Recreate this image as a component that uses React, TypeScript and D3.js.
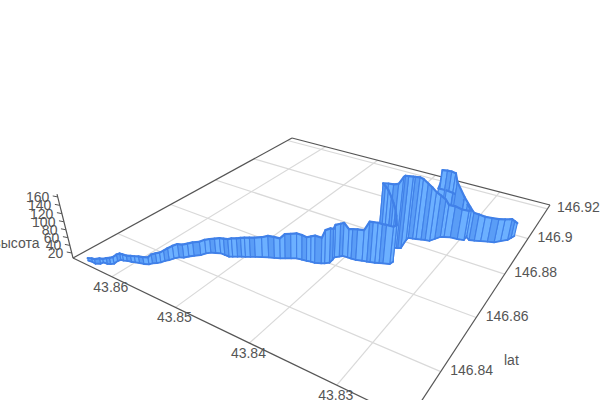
import React from "react";
import * as d3 from "d3";

const lonOff = [6494,6428,6368,6318,6312,6248,6215,6187,6196,6183,6146,6102,6043,5999,5948,5890,5837,5818,5780,5752,5732,5704,5681,5647,5597,5563,5523,5467,5439,5401,5346,5292,5227,5160,5123,5076,5034,4994,4945,4896,4822,4756,4691,4628,4579,4521,4464,4397,4338,4287,4234,4162,4131,4090,4091,4102,4062,4035,3970,3921,3860,3789,3733,3695,3642,3598,3556,3484,3474,3572,3606,3650,3684,3729,3771,3797,3744,3684,3618,3575,3558,3529,3557,3556,3503,3463,3405,3357,3304,3268,3228,3188,3119,3030,2952,2956,3029,3089,3168,3238,3326,3428,3417,3416,3355,3300,3248,3210,3078,2973,2898,2838,2767,2693,2618,2561,2495,2474,2452];
const latOff = [269,271,270,277,285,286,290,296,309,317,319,323,326,330,334,337,343,351,358,366,376,385,397,408,414,425,435,447,460,470,476,482,482,482,487,494,500,505,512,519,528,536,542,549,556,564,572,575,577,580,581,588,593,602,617,630,640,647,649,649,650,656,659,662,666,671,675,682,696,736,743,748,749,748,748,745,752,755,753,759,760,765,809,822,826,829,834,838,841,857,875,881,889,891,896,920,928,933,935,932,930,928,932,932,934,935,936,935,928,918,904,909,916,924,930,946,962,977,993];
const heights = [13,16,19,21,16,22,23,24,24,24,23,21,23,23,24,25,25,30,32,32,34,38,40,42,41,41,42,42,43,43,45,47,50,53,55,55,56,57,57,57,59,63,62,59,70,71,72,71,68,72,77,73,92,95,87,91,92,93,80,83,86,86,109,109,109,106,105,102,101,101,113,124,136,151,159,165,165,165,170,187,190,189,171,166,166,163,153,145,135,122,107,93,90,86,85,77,85,91,97,102,105,105,119,152,153,153,151,131,101,85,80,77,72,70,69,65,63,53,42];
const lonTicks = [43.83, 43.84, 43.85, 43.86];
const latTicks = [146.84, 146.86, 146.88, 146.9, 146.92];
const zTicks = [20, 40, 60, 80, 100, 120, 140, 160];

const lonDomain = [43.8669, 43.8229];
const latDomain = [146.8255, 146.9229];
const zDomain = [6.7, 166.8];

const L = [73, 258], F = [409, 420], R = [550, 205], B = [292, 138];
const vanish = [300, 1166];
const zLift = 0.0658;

const dx1 = F[0] - R[0], dx2 = B[0] - R[0], sx = L[0] - F[0] + R[0] - B[0];
const dy1 = F[1] - R[1], dy2 = B[1] - R[1], sy = L[1] - F[1] + R[1] - B[1];
const det = dx1 * dy2 - dx2 * dy1;
const g = (sx * dy2 - dx2 * sy) / det;
const h = (dx1 * sy - sx * dy1) / det;
const a = F[0] - L[0] + g * F[0], b = B[0] - L[0] + h * B[0];
const d = F[1] - L[1] + g * F[1], e = B[1] - L[1] + h * B[1];

const sScale = d3.scaleLinear().domain(lonDomain).range([0, 1]);
const tScale = d3.scaleLinear().domain(latDomain).range([0, 1]);
const zScale = d3.scaleLinear().domain(zDomain).range([0, zLift]);

function project(lon: number, lat: number, z: number): [number, number] {
  const s = sScale(lon), t = tScale(lat), q = zScale(z);
  const w = g * s + h * t + 1 - q;
  return [
    (a * s + b * t + L[0] - q * vanish[0]) / w,
    (d * s + e * t + L[1] - q * vanish[1]) / w,
  ];
}

const line = d3.line();
const zFloor = zDomain[0];
const lons = lonOff.map((v) => 43.8 + v / 1e5);
const lats = latOff.map((v) => 146.8 + v / 1e4);

const lightBlue = "#6cb0ff";
const midBlue = "#5a9df6";
const edgeBlue = "#4080e8";

const segments = d3.range(lons.length - 1).map((i) => {
  const p0 = project(lons[i], lats[i], zFloor), p1 = project(lons[i + 1], lats[i + 1], zFloor);
  const t0 = project(lons[i], lats[i], heights[i]), t1 = project(lons[i + 1], lats[i + 1], heights[i + 1]);
  return {
    i,
    depth: (p0[1] + p1[1]) / 2,
    fill: i % 3 === 2 ? midBlue : lightBlue,
    path: line([p0, p1, t1, t0])! + "Z",
    top: line([t0, t1])!,
    bottom: line([p0, p1])!,
  };
});
const ordered = d3.sort(segments, (s) => s.depth);

const textFont = "'Liberation Sans', Arial, sans-serif";
const textColor = "#555";
const gridColor = "#d9d9d9";
const axisColor = "#555";

export default function App() {
  const [lonA, lonB] = lonDomain, [latA, latB] = latDomain;
  const edges = [
    [project(lonA, latA, zFloor), project(lonA, latB, zFloor)],
    [project(lonA, latB, zFloor), project(lonB, latB, zFloor)],
    [project(lonA, latA, zFloor), project(lonB, latA, zFloor)],
    [project(lonB, latA, zFloor), project(lonB, latB, zFloor)],
    [project(lonA, latA, zFloor), project(lonA, latA, zDomain[1])],
  ];
  return (
    <svg width={600} height={400} style={{ position: "absolute", left: 0, top: 0, background: "#fff" }}>
      {lonTicks.map((v) => (
        <path key={v} d={line([project(v, latA, zFloor), project(v, latB, zFloor)])!} stroke={gridColor} strokeWidth={1.2} fill="none" />
      ))}
      {latTicks.map((v) => (
        <path key={v} d={line([project(lonA, v, zFloor), project(lonB, v, zFloor)])!} stroke={gridColor} strokeWidth={1.2} fill="none" />
      ))}
      {edges.map((ed, i) => (
        <path key={i} d={line(ed as [number, number][])!} stroke={axisColor} strokeWidth={1.2} fill="none" />
      ))}
      {zTicks.map((v) => {
        const p = project(lonA, latA, v);
        return (
          <g key={v}>
            <path d={`M${p[0]},${p[1]}L${p[0] - 5},${p[1] - 1}`} stroke={axisColor} strokeWidth={1} />
            <text x={p[0] - 8.5} y={p[1] + 5} textAnchor="end" fontFamily={textFont} fontSize={14} fill={textColor}>{v}</text>
          </g>
        );
      })}
      {ordered.map((s) => (
        <g key={s.i}>
          <path d={s.path} fill={s.fill} stroke={edgeBlue} strokeWidth={1.1} strokeLinejoin="round" />
          <path d={s.top} stroke={edgeBlue} strokeWidth={2.2} strokeLinecap="round" fill="none" />
          <path d={s.bottom} stroke={edgeBlue} strokeWidth={1.8} strokeLinecap="round" fill="none" />
        </g>
      ))}
      {lonTicks.map((v) => {
        const p = project(v, latA, zFloor);
        return <text key={v} x={p[0] - 1} y={p[1] + 15} textAnchor="middle" fontFamily={textFont} fontSize={14} fill={textColor}>{v}</text>;
      })}
      {latTicks.map((v) => {
        const p = project(lonB, v, zFloor);
        return <text key={v} x={p[0] + 9.5} y={p[1] + 3} textAnchor="start" fontFamily={textFont} fontSize={14} fill={textColor}>{v}</text>;
      })}
      <text x={39.5} y={248} textAnchor="end" fontFamily={textFont} fontSize={14} fill={textColor}>высота</text>
      <text x={504} y={365} fontFamily={textFont} fontSize={14} fill={textColor}>lat</text>
    </svg>
  );
}
